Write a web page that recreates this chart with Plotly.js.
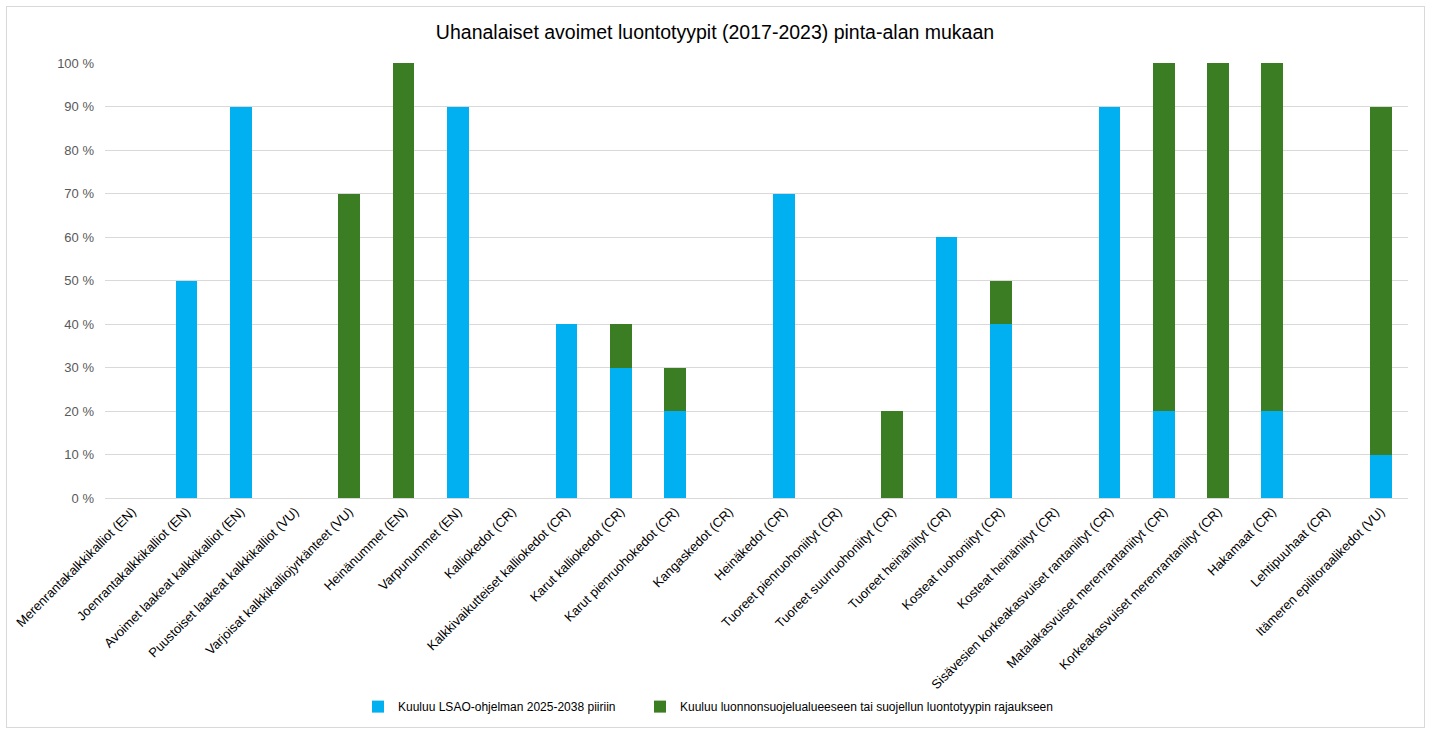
<!DOCTYPE html>
<html>
<head>
<meta charset="utf-8">
<script src="https://cdn.plot.ly/plotly-3.0.1.min.js"></script>
<style>
html,body{margin:0;padding:0;background:#fff;}
#wrap{position:relative;width:1430px;height:733px;}
#chart{width:1430px;height:733px;}
#frame{position:absolute;left:6px;top:6px;width:1417px;height:720px;border:1px solid #d9d9d9;pointer-events:none;}
</style>
</head>
<body>
<div id="wrap"><div id="chart"></div><div id="frame"></div></div>
<script>
const categories = [
  "Merenrantakalkkikalliot (EN)",
  "Joenrantakalkkikalliot (EN)",
  "Avoimet laakeat kalkkikalliot (EN)",
  "Puustoiset laakeat kalkkikalliot (VU)",
  "Varjoisat kalkkikalliojyrkänteet (VU)",
  "Heinänummet (EN)",
  "Varpunummet (EN)",
  "Kalliokedot (CR)",
  "Kalkkivaikutteiset kalliokedot (CR)",
  "Karut kalliokedot (CR)",
  "Karut pienruohokedot (CR)",
  "Kangaskedot (CR)",
  "Heinäkedot (CR)",
  "Tuoreet pienruohoniityt (CR)",
  "Tuoreet suurruohoniityt (CR)",
  "Tuoreet heinäniityt (CR)",
  "Kosteat ruohoniityt (CR)",
  "Kosteat heinäniityt (CR)",
  "Sisävesien korkeakasvuiset rantaniityt (CR)",
  "Matalakasvuiset merenrantaniityt (CR)",
  "Korkeakasvuiset merenrantaniityt (CR)",
  "Hakamaat (CR)",
  "Lehtipuuhaat (CR)",
  "Itämeren epilitoraalikedot (VU)"
];
const lsaoValues =      [0,50,90,0,0,0,90,0,40,30,20,0,70,0,0,60,40,0,90,20,0,20,0,10];
const protectedValues = [0,0,0,0,70,100,0,0,0,10,10,0,0,0,20,0,10,0,0,80,100,80,0,80];
const seriesNames = [
  "Kuuluu LSAO-ohjelman 2025-2038 piiriin",
  "Kuuluu luonnonsuojelualueeseen tai suojellun luontotyypin rajaukseen"
];
const yTicks = [0,10,20,30,40,50,60,70,80,90,100];

const traces = [
  {type:'bar', x:categories, y:lsaoValues, name:seriesNames[0], marker:{color:'#00B0F0'}, legend:'legend'},
  {type:'bar', x:categories, y:protectedValues, name:seriesNames[1], marker:{color:'#3A7D22'}, legend:'legend2'}
];

const legendCommon = {orientation:'h', yanchor:'middle', y:-(714-503)/440, xanchor:'left', font:{size:12, color:'#000'}, itemwidth:30, bgcolor:'rgba(0,0,0,0)'};

const layout = {
  width:1430, height:733,
  barmode:'stack', bargap:0.6,
  paper_bgcolor:'#fff', plot_bgcolor:'#fff',
  font:{family:'"Liberation Sans", Arial, sans-serif', color:'#000'},
  margin:{l:105, r:22, t:63, b:230},
  title:{text:'Uhanalaiset avoimet luontotyypit (2017-2023) pinta-alan mukaan', x:0.5, xanchor:'center', y:1-32/733, yanchor:'middle', font:{size:19.5, color:'#000'}},
  xaxis:{tickangle:-45, tickfont:{size:13, color:'#000'}, showgrid:false, showline:true, linecolor:'#d9d9d9', linewidth:1, ticks:'', automargin:false},
  yaxis:{range:[0,100], tickvals:yTicks, ticktext:yTicks.map(v=>v+' %'), tickfont:{size:13, color:'#595959'}, gridcolor:'#d9d9d9', gridwidth:1, zeroline:false, showline:false, ticks:'', ticklen:0, ticklabelstandoff:10, automargin:false},
  legend:Object.assign({}, legendCommon, {x:(358-105)/1303}),
  legend2:Object.assign({}, legendCommon, {x:(640-105)/1303}),
  showlegend:true
};

Plotly.newPlot('chart', traces, layout, {displayModeBar:false, staticPlot:true});
</script>
</body>
</html>
